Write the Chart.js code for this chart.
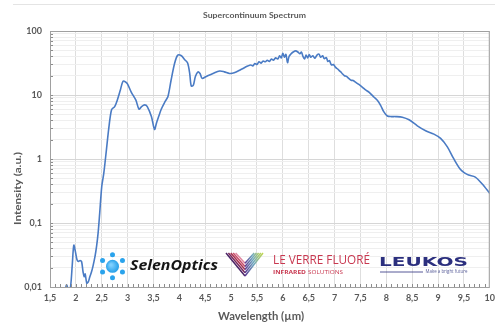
<!DOCTYPE html>
<html>
<head>
<meta charset="utf-8">
<script src="https://cdn.jsdelivr.net/npm/chart.js@4.4.1/dist/chart.umd.min.js"></script>
<style>
  html, body { margin: 0; padding: 0; background: #fff; }
  #wrap { width: 501px; height: 326px; }
</style>
</head>
<body>
<div id="wrap"><canvas id="spectrum" width="501" height="326"></canvas></div>
<script>
// Supercontinuum spectrum, values

const wavelengths = [
  1.80, 1.82, 1.84, 1.87, 1.90, 1.93, 1.96, 1.99, 2.02, 2.05,
  2.08, 2.11, 2.14, 2.16, 2.18, 2.21, 2.24, 2.27, 2.30, 2.33,
  2.37, 2.40, 2.43, 2.46, 2.50, 2.54, 2.59, 2.64, 2.69, 2.75,
  2.80, 2.86, 2.91, 2.96, 3.00, 3.07, 3.16, 3.22, 3.27, 3.33,
  3.38, 3.46, 3.52, 3.56, 3.60, 3.65, 3.72, 3.78, 3.84, 3.91,
  3.97, 4.04, 4.10, 4.16, 4.20, 4.23, 4.27, 4.31, 4.36, 4.40,
  4.44, 4.52, 4.65, 4.78, 4.87, 4.97, 5.06, 5.19, 5.32, 5.38,
  5.42, 5.46, 5.50, 5.54, 5.58, 5.62, 5.66, 5.70, 5.74, 5.78,
  5.82, 5.86, 5.90, 5.94, 5.97, 6.00, 6.03, 6.06, 6.09, 6.12,
  6.16, 6.20, 6.25, 6.29, 6.33, 6.36, 6.39, 6.42, 6.45, 6.48,
  6.51, 6.54, 6.58, 6.62, 6.66, 6.70, 6.73, 6.77, 6.80, 6.84,
  6.87, 6.90, 6.94, 6.98, 7.02, 7.06, 7.09, 7.12, 7.15, 7.19,
  7.23, 7.28, 7.32, 7.36, 7.41, 7.47, 7.54, 7.60, 7.67, 7.76,
  7.83, 7.89, 7.95, 8.02, 8.10, 8.18, 8.31, 8.44, 8.60, 8.76,
  8.92, 9.05, 9.18, 9.30, 9.43, 9.52, 9.59, 9.72, 9.85, 10.0
];

const intensities = [
  0.0095, 0.0108, 0.0098, 0.0085, 0.0105, 0.022, 0.045, 0.036, 0.027, 0.025,
  0.026, 0.025, 0.017, 0.0145, 0.016, 0.0115, 0.012, 0.0145, 0.017, 0.021,
  0.030, 0.043, 0.07, 0.14, 0.37, 0.6, 1.38, 3.2, 5.9, 6.6,
  8.3, 12, 16.3, 16, 14.8, 11.1, 8.3, 6.0, 6.6, 7.0,
  6.6, 4.6, 2.9, 3.7, 4.6, 6.0, 7.8, 9.5, 17, 31.6,
  42, 41, 36, 31.6, 21.7, 13.8, 14.2, 19.5, 23, 21.7,
  18.2, 19.5, 21.7, 23.7, 23, 21.7, 22.2, 25, 28.3, 29.5,
  28.5, 31, 30, 33, 31.5, 34, 33, 35, 33.5, 36.5,
  35, 38, 36.5, 41, 38, 45, 39, 43, 32, 40,
  44, 47, 49, 47, 44, 47, 40, 36.5, 42, 38,
  43, 39, 41, 37.5, 42, 43.5, 39, 41, 37, 38.5,
  33.5, 34.5, 29.5, 30, 27, 25.5, 24, 23, 21.5, 20,
  19.5, 18, 17, 16.8, 15.8, 14.6, 13.2, 12, 11, 9.3,
  8.2, 6.9, 5.5, 4.7, 4.6, 4.6, 4.5, 4.1, 3.3, 2.76,
  2.45, 2.1, 1.55, 1.02, 0.69, 0.6, 0.56, 0.52, 0.41, 0.29
];

const xMin = 1.5;
const xMax = 10;
const xStep = 0.5;
const yDecades = [0.01, 0.1, 1, 10, 100];
const yDecadeLabels = ['0,01', '0,1', '1', '10', '100'];

const chartTitle = 'Supercontinuum Spectrum';
const xTitle = 'Wavelength (µm)';
const yTitle = 'Intensity (a.u.)';

const textGray = '#595959';
const lineBlue = '#4a7bc4';

// gridline values: 1..9 in every decade, plus the top
const yGridValues = [];
for (let d = 0; d < yDecades.length - 1; d++) {
    for (let m = 1; m <= 9; m++) {
        yGridValues.push({ value: yDecades[d] * m, major: m === 1 });
    }
}
yGridValues.push({ value: yDecades[yDecades.length - 1], major: true });

function decadeIndex(v) {
    return yDecades.findIndex(d => Math.abs(d - v) / d < 1e-6);
}

/**
 * Draw text centred on (x, y), stretched to a given width
 */
function drawFitted(ctx, text, x, y, width, font, color, rotate) {
    ctx.save();
    ctx.font = font;
    ctx.fillStyle = color;
    ctx.textBaseline = 'middle';
    ctx.textAlign = 'left';
    const w = ctx.measureText(text).width;
    ctx.translate(x, y);
    if (rotate) ctx.rotate(-Math.PI / 2);
    ctx.scale(width / w, 1);
    ctx.fillText(text, -w / 2, 0);
    ctx.restore();
}

function drawLogos(ctx) {
    // SelenOptics mark
    ctx.save();
    const cx = 112.5, cy = 266.3;
    const grad = ctx.createRadialGradient(cx - 1.5, cy - 1.5, 1, cx, cy, 7);
    grad.addColorStop(0, '#7fd0ff');
    grad.addColorStop(1, '#1e9be6');
    ctx.fillStyle = grad;
    ctx.beginPath();
    ctx.arc(cx, cy, 6.5, 0, Math.PI * 2);
    ctx.fill();
    ctx.fillStyle = '#2aa3ec';
    for (let k = 0; k < 6; k++) {
        const a = Math.PI / 2 + k * Math.PI / 3;
        ctx.beginPath();
        ctx.arc(cx + Math.cos(a) * 11.5, cy - Math.sin(a) * 11.5, 2.5, 0, Math.PI * 2);
        ctx.fill();
    }
    ctx.restore();
    drawFitted(ctx, 'SelenOptics', 174, 266, 88, 'bold italic 14px "Open Sans"', '#151515');

    // V mark
    ctx.save();
    ctx.lineWidth = 1.5;
    ctx.lineJoin = 'miter';
    const leftCols = ['#4b2466', '#7a2a5c', '#a8324f', '#c94e6a', '#df86a0'];
    for (let k = 0; k < 5; k++) {
        const bx = 245, by = 276 - k * 3.2;
        ctx.strokeStyle = leftCols[k];
        ctx.beginPath();
        ctx.moveTo(226 + k * 2.4, 253);
        ctx.lineTo(bx, by);
        ctx.stroke();
        const g = ctx.createLinearGradient(bx, by, 263, 253);
        g.addColorStop(0, '#5a3590');
        g.addColorStop(0.5, '#6fa8c0');
        g.addColorStop(1, '#c3d84a');
        ctx.strokeStyle = g;
        ctx.beginPath();
        ctx.moveTo(bx, by);
        ctx.lineTo(263 - k * 2.2, 253);
        ctx.stroke();
    }
    ctx.restore();

    // Le Verre Fluoré
    drawFitted(ctx, 'LE VERRE FLUORÉ', 321.5, 260.5, 97, '12px "Open Sans"', '#c8374f');
    drawFitted(ctx, 'INFRARED', 289.5, 272, 33, 'bold 6px "Open Sans"', '#c8374f');
    drawFitted(ctx, 'SOLUTIONS', 325.5, 272, 35, '6px "Open Sans"', '#c8374f');

    // Leukos
    drawFitted(ctx, 'LEUKOS', 423.5, 262.5, 89, 'bold 12px "DejaVu Sans"', '#2b2f7e');
    ctx.save();
    ctx.strokeStyle = '#2b2f7e';
    ctx.lineWidth = 0.8;
    ctx.beginPath();
    ctx.moveTo(380, 272);
    ctx.lineTo(423, 272);
    ctx.stroke();
    ctx.restore();
    drawFitted(ctx, 'Make a bright future', 446.5, 272, 42, '5px "Open Sans"', '#5a5f9a');
}

const decorPlugin = {
    id: 'decor',
    afterDraw(chart) {
        const ctx = chart.ctx;
        const area = chart.chartArea;
        const xs = chart.scales.x;
        const ys = chart.scales.y;

        ctx.save();
        // faint outer border line at the top
        ctx.strokeStyle = '#e4e4e4';
        ctx.lineWidth = 1;
        ctx.beginPath();
        ctx.moveTo(13, 4.5);
        ctx.lineTo(495, 4.5);
        ctx.stroke();

        // small minor ticks along the axes
        ctx.strokeStyle = '#8c8c8c';
        ctx.lineWidth = 1;
        ctx.beginPath();
        const nx = Math.round((xMax - xMin) / 0.1);
        for (let i = 1; i < nx; i++) {
            const px = Math.round(xs.getPixelForValue(xMin + i * 0.1)) + 0.5;
            ctx.moveTo(px, area.bottom);
            ctx.lineTo(px, area.bottom - 3);
        }
        yGridValues.forEach(t => {
            const py = Math.round(ys.getPixelForValue(t.value)) + 0.5;
            ctx.moveTo(area.left, py);
            ctx.lineTo(area.left + 3, py);
        });
        ctx.stroke();

        // plot frame
        ctx.strokeStyle = '#a0a0a0';
        ctx.strokeRect(area.left + 0.5, area.top + 0.5, area.right - area.left - 1, area.bottom - area.top);
        ctx.restore();

        // titles
        drawFitted(ctx, chartTitle, 254.5, 15, 103, 'bold 8px Lato', textGray);
        drawFitted(ctx, yTitle, 18, 188.5, 73, 'bold 10px Lato', textGray, true);
        drawFitted(ctx, xTitle, 261, 316, 86, 'bold 11px Lato', textGray);

        drawLogos(ctx);
    }
};

const points = wavelengths.map((w, i) => ({ x: w, y: intensities[i] }));

new Chart(document.getElementById('spectrum'), {
    type: 'line',
    data: {
        datasets: [{
            label: 'Spectrum',
            data: points,
            borderColor: lineBlue,
            borderWidth: 1.6,
            pointRadius: 0,
            tension: 0.3,
            fill: false
        }]
    },
    options: {
        responsive: false,
        animation: false,
        devicePixelRatio: 1,
        layout: {
            padding: { top: 31, right: 10, left: 0, bottom: 0 }
        },
        plugins: {
            legend: { display: false },
            title: { display: false },
            tooltip: { enabled: false }
        },
        scales: {
            x: {
                type: 'linear',
                min: xMin,
                max: xMax,
                afterFit(scale) { scale.height = 39; },
                border: { display: false },
                grid: {
                    color: '#dedede',
                    drawTicks: false
                },
                ticks: {
                    stepSize: xStep,
                    padding: 6,
                    color: textGray,
                    font: { family: 'Lato', size: 9, weight: 'bold' },
                    maxRotation: 0,
                    callback: value => String(value).replace('.', ',')
                }
            },
            y: {
                type: 'logarithmic',
                min: yDecades[0],
                max: yDecades[yDecades.length - 1],
                afterFit(scale) { scale.width = 50; },
                afterBuildTicks(scale) {
                    scale.ticks = yGridValues.map(t => ({ value: t.value, major: t.major }));
                },
                border: { display: false },
                grid: {
                    drawTicks: false,
                    color: ctx => (ctx.tick && decadeIndex(ctx.tick.value) >= 0) ? '#d6d6d6' : '#efefef'
                },
                ticks: {
                    autoSkip: false,
                    padding: 8,
                    color: textGray,
                    font: { family: 'Lato', size: 9, weight: 'bold' },
                    callback: value => {
                        const i = decadeIndex(value);
                        return i >= 0 ? yDecadeLabels[i] : '';
                    }
                }
            }
        }
    },
    plugins: [decorPlugin]
});
</script>
</body>
</html>
